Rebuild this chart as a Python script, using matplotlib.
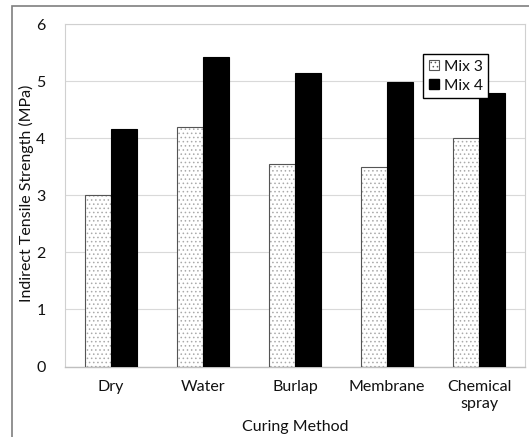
import matplotlib
matplotlib.use("Agg")
import matplotlib.pyplot as plt
import numpy as np
from matplotlib.patches import Rectangle, Patch

categories = ["Dry", "Water", "Burlap", "Membrane", "Chemical\nspray"]
mix3 = [3.0, 4.2, 3.55, 3.5, 4.0]
mix4 = [4.16, 5.43, 5.15, 4.99, 4.80]
series_names = ["Mix 3", "Mix 4"]
yticks = [0, 1, 2, 3, 4, 5, 6]

plt.rcParams['font.family'] = ['Lato', 'DejaVu Sans']
plt.rcParams['hatch.linewidth'] = 0.6

fig = plt.figure(figsize=(5.29, 4.37), dpi=100)
ax = fig.add_axes([0.1229, 0.1613, 0.9924 - 0.1229, 0.9444 - 0.1613])

# outer frame
fig.patches.append(Rectangle((12 / 529, -0.05), 1.2, (437 - 6) / 437 + 0.05,
                             transform=fig.transFigure, fill=False,
                             edgecolor='#7f7f7f', linewidth=1.2, zorder=0))

x = np.arange(len(categories))
w = 0.287
ax.bar(x - w / 2, mix3, w, color='white', edgecolor='#aaaaaa', hatch='....',
       linewidth=0, zorder=2)
ax.bar(x - w / 2, mix3, w, fill=False, edgecolor='#555555', linewidth=0.8, zorder=3)
ax.bar(x + w / 2, mix4, w, color='black', edgecolor='black', linewidth=0.8, zorder=3)

ax.set_xlim(-0.5, len(categories) - 0.5)
ax.set_ylim(0, 6)
ax.set_yticks(yticks)
ax.set_xticks(x)
ax.set_xticklabels(categories, color='#111111')
ax.tick_params(axis='y', length=0, pad=14, colors='#111111')
ax.tick_params(axis='x', length=0, pad=10)
ax.yaxis.grid(True, color='#d9d9d9', linewidth=0.8, zorder=0)
ax.set_axisbelow(True)
for s in ['left', 'right', 'top']:
    ax.spines[s].set_color('#d0d0d0')
    ax.spines[s].set_linewidth(0.8)
ax.spines['bottom'].set_color('#bfbfbf')
ax.spines['bottom'].set_linewidth(1.0)

ylab = ax.set_ylabel("Indirect Tensile Strength (MPa)", color='#111111')
xlab = ax.set_xlabel("Curing Method", color='#111111')
ax.yaxis.set_label_coords(-0.068, 0.505)
ax.xaxis.set_label_coords(0.5, -0.155)

renderer = fig.canvas.get_renderer()


def fit_size(txt, target, vertical=False, base=10.0):
    txt.set_fontsize(base)
    bb = txt.get_window_extent(renderer)
    cur = bb.height if vertical else bb.width
    return base * target / cur


tl = ax.get_xticklabels()[3]
tsize = fit_size(tl, 77)
ax.tick_params(axis='both', labelsize=tsize)
xlab.set_fontsize(fit_size(xlab, 107))
ylab.set_fontsize(fit_size(ylab, 217, vertical=True))
probe = fig.text(0, 0, series_names[0])
lsize = fit_size(probe, 39)
probe.remove()
em_px = lsize * 100 / 72.0

handles = [Patch(facecolor='white', edgecolor='#555555', hatch='....', linewidth=0.8),
           Patch(facecolor='black', edgecolor='black')]
leg = ax.legend(handles, series_names, loc='upper right', bbox_to_anchor=(0.9196, 0.913),
                borderaxespad=0, fancybox=False, edgecolor='black', fontsize=lsize,
                handlelength=10 / em_px, handleheight=10 / em_px,
                handletextpad=5 / em_px, borderpad=0.35,
                labelspacing=5 / em_px, framealpha=1)
leg.get_frame().set_linewidth(1.0)
for t in leg.get_texts():
    t.set_color('#111111')

fig.savefig("out.png", dpi=100)
